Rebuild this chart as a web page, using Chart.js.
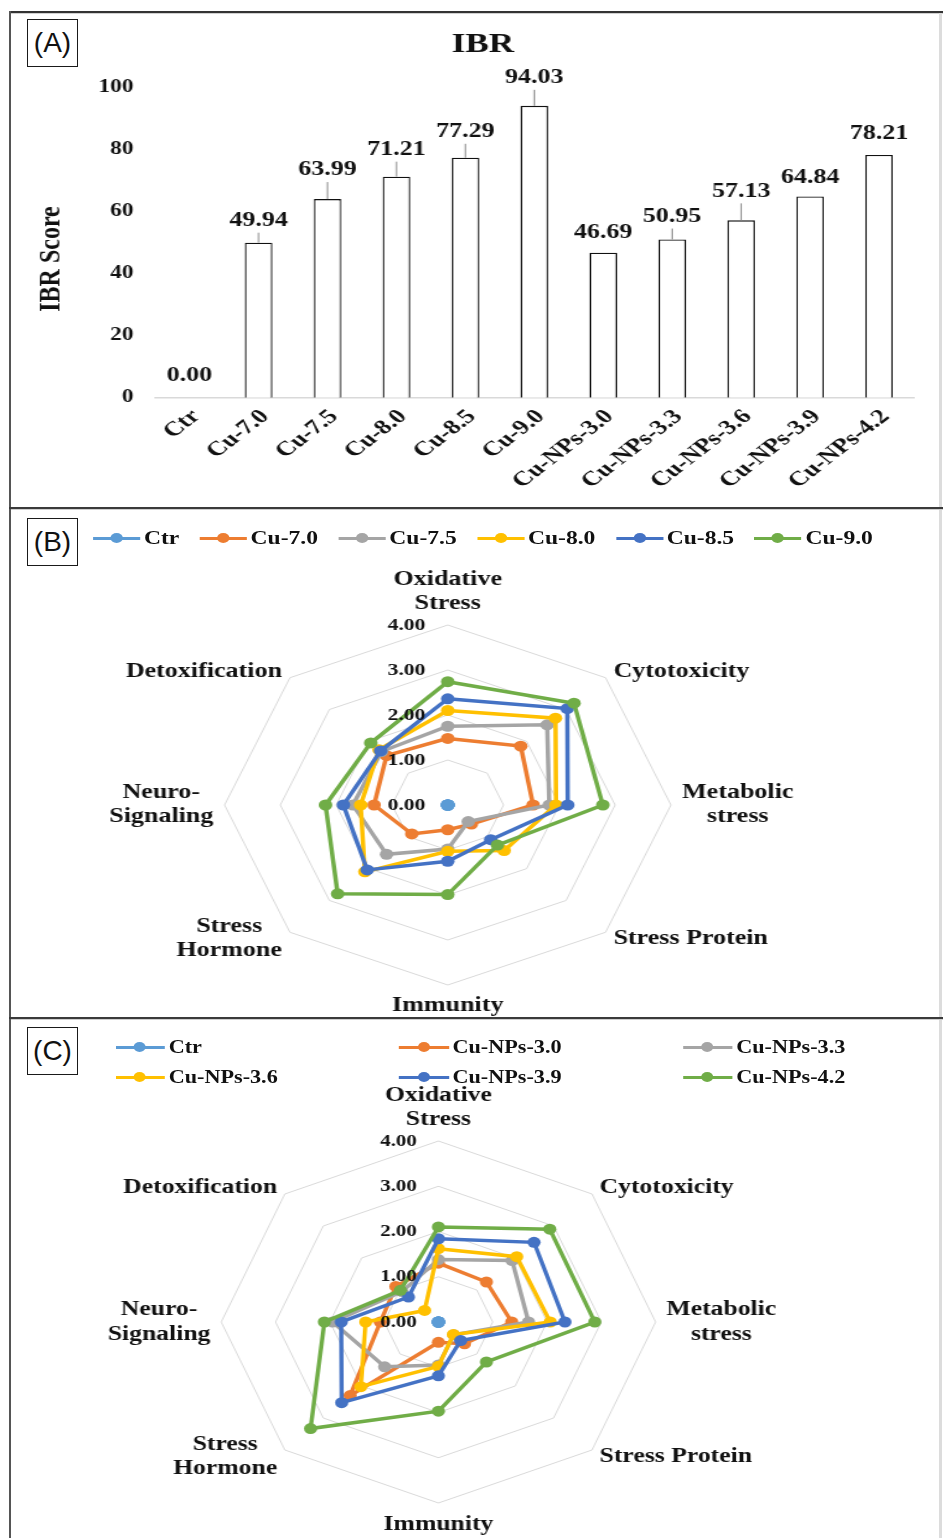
<!DOCTYPE html>
<html>
<head>
<meta charset="utf-8">
<title>IBR scores and biomarker radar profiles</title>
<script src="https://cdn.jsdelivr.net/npm/chart.js@4.4.1/dist/chart.umd.min.js"></script>
<style>
  html, body { margin: 0; padding: 0; background: #fff; }
  body { position: relative; width: 943px; height: 1538px; overflow: hidden; }
  .panel { position: absolute; left: 10px; transform-origin: 0 0; }
  .panel canvas { position: absolute; left: 0; top: 0; }
  .rule { position: absolute; }
  .tag {
    position: absolute; left: 27px; width: 49px; height: 46px;
    border: 1.5px solid #1a1a1a; background: #fff; color: #111;
    font-family: "Liberation Sans", Arial, sans-serif; font-size: 28px;
    line-height: 46px; text-align: center; z-index: 5;
  }
  .legend {
    position: absolute; color: #111; white-space: nowrap;
    font-family: "Liberation Serif", "Times New Roman", serif; font-weight: bold;
  }
  .legend .item { display: flex; align-items: center; }
  .legend .key { position: relative; height: 3px; margin-right: 3px; flex: none; }
  .legend .key i {
    position: absolute; left: 50%; top: 50%; width: 10px; height: 10px;
    margin: -5px 0 0 -5px; border-radius: 50%;
  }
  #legendB { left: 67px; top: 19px; display: flex; gap: 16.5px; font-size: 19px; line-height: 22px; }
  #legendC { left: 87.5px; top: 14px; display: grid; grid-template-columns: repeat(3, 236.5px); font-size: 18.5px; line-height: 30px; }
</style>
</head>
<body>

<div class="panel" id="panelA" style="top:12px; transform:scaleX(1.3);">
  <canvas id="ibrChart" width="718" height="496"></canvas>
</div>
<div class="panel" id="panelB" style="top:508px; transform:scaleX(1.24);">
  <canvas id="cuChart" width="752" height="510"></canvas>
  <div class="legend" id="legendB"></div>
</div>
<div class="panel" id="panelC" style="top:1018px; transform:scaleX(1.2);">
  <canvas id="npChart" width="778" height="520"></canvas>
  <div class="legend" id="legendC"></div>
</div>

<!-- figure frame and panel separators -->
<div class="rule" style="left:9px; top:11px; width:934px; height:2px; background:#333;"></div>
<div class="rule" style="left:11px; top:13px; width:932px; height:1px; background:#d0d0d0;"></div>
<div class="rule" style="left:9px; top:11px; width:2px; height:1527px; background:#555;"></div>
<div class="rule" style="left:939px; top:13px; width:3px; height:1525px; background:#dcdcdc;"></div>
<div class="rule" style="left:9px; top:507px; width:934px; height:2px; background:#3a3a3a;"></div>
<div class="rule" style="left:11px; top:509px; width:932px; height:1px; background:#cfcfcf;"></div>
<div class="rule" style="left:9px; top:1017px; width:934px; height:2px; background:#3a3a3a;"></div>
<div class="rule" style="left:11px; top:1019px; width:932px; height:1px; background:#cfcfcf;"></div>

<div class="tag" style="top:19px;">(A)</div>
<div class="tag" style="top:518px;">(B)</div>
<div class="tag" style="top:1027px;">(C)</div>

<script>
// ---- IBR bar chart data ----
const groups = ['Ctr', 'Cu-7.0', 'Cu-7.5', 'Cu-8.0', 'Cu-8.5', 'Cu-9.0',
                'Cu-NPs-3.0', 'Cu-NPs-3.3', 'Cu-NPs-3.6', 'Cu-NPs-3.9', 'Cu-NPs-4.2'];
const ibrScores = [0.00, 49.94, 63.99, 71.21, 77.29, 94.03, 46.69, 50.95, 57.13, 64.84, 78.21];
const ibrTitle = 'IBR';
const ibrAxisTitle = 'IBR Score';

// ---- radar axes ----
const axisNames = [['Oxidative', 'Stress'], ['Cytotoxicity'], ['Metabolic', 'stress'], ['Stress Protein'],
                   ['Immunity'], ['Stress', 'Hormone'], ['Neuro-', 'Signaling'], ['Detoxification']];
const ringValues = [0, 1, 2, 3, 4];
const ringLabels = ['0.00', '1.00', '2.00', '3.00', '4.00'];

// ---- copper ion exposure (B) ----
const cuNames = ['Ctr', 'Cu-7.0', 'Cu-7.5', 'Cu-8.0', 'Cu-8.5', 'Cu-9.0'];
const ctrB  = [0, 0, 0, 0, 0, 0, 0, 0];
const cu70  = [1.48, 1.85, 1.53, 0.60, 0.55, 0.91, 1.32, 1.55];
const cu75  = [1.75, 2.52, 1.82, 0.52, 0.98, 1.55, 1.70, 1.68];
const cu80  = [2.10, 2.73, 1.94, 1.43, 1.03, 2.10, 1.56, 1.74];
const cu85  = [2.36, 3.03, 2.15, 1.09, 1.25, 2.04, 1.87, 1.70];
const cu90  = [2.74, 3.20, 2.78, 1.26, 1.99, 2.79, 2.19, 1.95];

// ---- copper nanoparticle exposure (C) ----
const npNames = ['Ctr', 'Cu-NPs-3.0', 'Cu-NPs-3.3', 'Cu-NPs-3.6', 'Cu-NPs-3.9', 'Cu-NPs-4.2'];
const ctrC  = [0, 0, 0, 0, 0, 0, 0, 0];
const np30  = [1.30, 1.25, 1.35, 0.68, 0.45, 2.30, 1.07, 1.11];
const np33  = [1.38, 1.92, 1.66, 0.40, 0.95, 1.40, 1.95, 0.95];
const np36  = [1.62, 2.04, 2.06, 0.39, 0.98, 2.02, 1.34, 0.36];
const np39  = [1.84, 2.49, 2.33, 0.58, 1.19, 2.52, 1.79, 0.78];
const np42  = [2.10, 2.90, 2.88, 1.25, 1.97, 3.33, 2.10, 0.99];

const palette = ['#5B9BD5', '#ED7D31', '#A5A5A5', '#FFC000', '#4472C4', '#70AD47'];
const SERIF = '"Liberation Serif", "Times New Roman", serif';
const INK = '#111';

Chart.defaults.font.family = SERIF;
Chart.defaults.color = INK;

// chart title and rotated y-axis title for the bar panel
const barTitles = {
  id: 'barTitles',
  afterDraw(chart, args, opts) {
    const ctx = chart.ctx;
    const area = chart.chartArea;
    ctx.save();
    ctx.fillStyle = INK;
    ctx.textAlign = 'center';
    ctx.textBaseline = 'middle';
    ctx.font = `bold ${opts.titleSize}px ${SERIF}`;
    ctx.fillText(ibrTitle, opts.titleX, opts.titleY);
    ctx.translate(opts.axisTitleX, (area.top + area.bottom) / 2 + opts.axisTitleShift);
    ctx.rotate(-Math.PI / 2);
    ctx.font = `bold ${opts.axisTitleSize}px ${SERIF}`;
    ctx.fillText(ibrAxisTitle, 0, 0);
    ctx.restore();
  }
};

// value labels above the bars, with a short leader where the label sits higher
const barValueLabels = {
  id: 'barValueLabels',
  afterDatasetsDraw(chart, args, opts) {
    const meta = chart.getDatasetMeta(0);
    const ctx = chart.ctx;
    ctx.save();
    ctx.font = `bold ${opts.size}px ${SERIF}`;
    ctx.fillStyle = INK;
    ctx.textAlign = 'center';
    ctx.textBaseline = 'middle';
    ctx.strokeStyle = '#8c8c8c';
    ctx.lineWidth = 1;
    meta.data.forEach((bar, i) => {
      const lift = opts.lifts[i];
      const y = bar.y - lift;
      if (lift > 21.5 && ibrScores[i] > 0) {
        ctx.beginPath();
        ctx.moveTo(bar.x, bar.y);
        ctx.lineTo(bar.x, y + 12);
        ctx.stroke();
      }
      ctx.fillText(ibrScores[i].toFixed(2), bar.x, y);
    });
    ctx.restore();
  }
};

new Chart(document.getElementById('ibrChart'), {
  type: 'bar',
  data: {
    labels: groups,
    datasets: [{
      data: ibrScores,
      backgroundColor: '#ffffff',
      borderColor: '#111',
      borderWidth: 1.3,
      barPercentage: 0.4,
      categoryPercentage: 1
    }]
  },
  options: {
    responsive: false,
    animation: false,
    layout: { padding: { left: 0, right: 23, top: 75.3, bottom: 0 } },
    plugins: {
      legend: { display: false },
      tooltip: { enabled: false },
      title: { display: false },
      barTitles: { titleSize: 27, titleX: 363.8, titleY: 33, axisTitleSize: 24, axisTitleX: 31.5, axisTitleShift: 16.5 },
      barValueLabels: { size: 20, lifts: [22, 22, 29, 27, 26, 28, 20, 23, 29, 19, 21] }
    },
    scales: {
      y: {
        min: 0, max: 100,
        ticks: { stepSize: 20, padding: 16.6, color: INK, font: { size: 18, weight: 'bold' } },
        grid: { display: false, drawTicks: false },
        border: { display: false },
        afterFit(scale) { scale.width = 111.6; }
      },
      x: {
        ticks: { minRotation: 45, maxRotation: 45, autoSkip: false, padding: 7, labelOffset: 5, color: INK, font: { size: 20.5, weight: 'bold' } },
        grid: { display: false, drawTicks: false },
        border: { display: true, color: '#d9d9d9', width: 1.5 },
        afterFit(scale) { scale.height = 110.3; }
      }
    }
  },
  plugins: [barValueLabels, barTitles]
});

// ring values and axis names for the radar panels, drawn over the series
const radarText = {
  id: 'radarText',
  afterDatasetsDraw(chart, args, opts) {
    const s = chart.scales.r;
    const ctx = chart.ctx;
    ctx.save();
    ctx.fillStyle = INK;
    ctx.font = `bold ${opts.tickSize}px ${SERIF}`;
    ctx.textAlign = 'right';
    ctx.textBaseline = 'middle';
    ringValues.forEach((v, i) => {
      const d = s.getDistanceFromCenterForValue(v);
      ctx.fillText(ringLabels[i], s.xCenter - opts.tickShift, s.yCenter - d);
    });
    ctx.font = `bold ${opts.labelSize}px ${SERIF}`;
    ctx.textAlign = 'center';
    const lh = opts.labelSize * 1.15;
    axisNames.forEach((lines, i) => {
      const p = s.getPointPosition(i, s.drawingArea + opts.gap);
      const ang = i * 360 / axisNames.length;
      const w = Math.max(...lines.map(l => ctx.measureText(l).width));
      const h = lh * lines.length;
      let left = p.x - w / 2;
      if (ang > 0 && ang < 180) left = p.x;
      else if (ang > 180) left = p.x - w;
      let top = p.y - h / 2;
      if (ang === 0) top = p.y - h;
      else if (ang === 180) top = p.y;
      lines.forEach((l, k) => ctx.fillText(l, left + w / 2, top + lh * (k + 0.5)));
    });
    ctx.restore();
  }
};

function radar(canvasId, names, series, padding, labelSize) {
  return new Chart(document.getElementById(canvasId), {
    type: 'radar',
    data: {
      labels: axisNames.map(a => a.join(' ')),
      datasets: names.map((name, i) => ({
        label: name,
        data: series[i],
        borderColor: palette[i],
        backgroundColor: palette[i],
        pointBackgroundColor: palette[i],
        pointBorderColor: palette[i],
        borderWidth: 3.5,
        pointRadius: 5.5,
        pointBorderWidth: 0,
        fill: false,
        tension: 0,
        order: names.length - 1 - i
      }))
    },
    options: {
      responsive: false,
      animation: false,
      layout: { padding },
      plugins: {
        legend: { display: false },
        tooltip: { enabled: false },
        radarText: { tickSize: 17.5, tickShift: 18, labelSize, gap: 9 }
      },
      scales: {
        r: {
          min: 0, max: 4,
          ticks: { stepSize: 1, display: false },
          pointLabels: { display: false },
          angleLines: { display: false },
          grid: { color: '#d9d9d9', lineWidth: 1 }
        }
      }
    },
    plugins: [radarText]
  });
}

radar('cuChart', cuNames, [ctrB, cu70, cu75, cu80, cu85, cu90], { left: 173, right: 219, top: 117, bottom: 33 }, 21);
radar('npChart', npNames, [ctrC, np30, np33, np36, np39, np42], { left: 176, right: 240, top: 123, bottom: 35 }, 21.4);

// legends: coloured line with a round marker, then the series name
function buildLegend(el, names, keyWidth) {
  names.forEach((name, i) => {
    const item = document.createElement('div');
    item.className = 'item';
    const key = document.createElement('span');
    key.className = 'key';
    key.style.width = keyWidth + 'px';
    key.style.background = palette[i];
    const dot = document.createElement('i');
    dot.style.background = palette[i];
    key.appendChild(dot);
    const txt = document.createElement('span');
    txt.textContent = name;
    item.append(key, txt);
    el.appendChild(item);
  });
}
buildLegend(document.getElementById('legendB'), cuNames, 38);
buildLegend(document.getElementById('legendC'), npNames, 41.7);
</script>
</body>
</html>
